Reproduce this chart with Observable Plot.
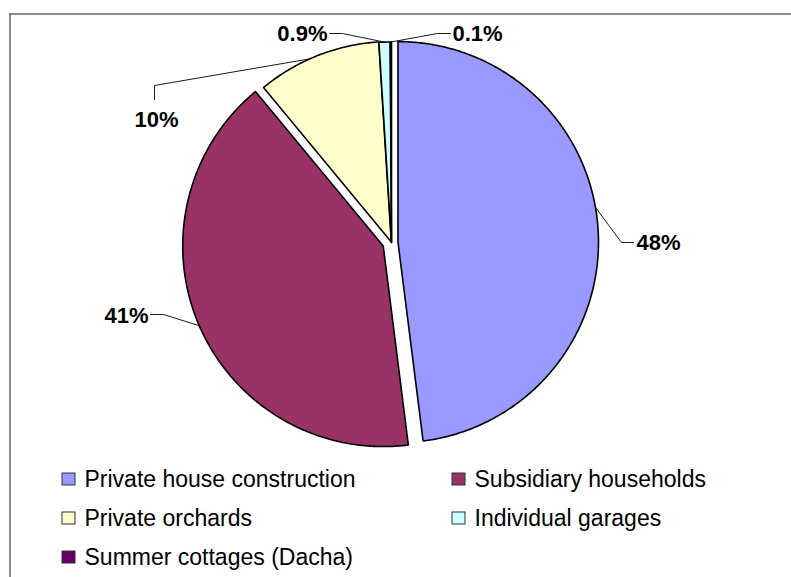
<!DOCTYPE html>
<html>
<head>
<meta charset="utf-8">
<script src="https://cdn.jsdelivr.net/npm/d3@7"></script>
<script src="https://cdn.jsdelivr.net/npm/@observablehq/plot@0.6"></script>
<style>
  html, body { margin: 0; padding: 0; background: #fff; }
  #chart svg { display: block; }
</style>
</head>
<body>
<div id="chart"></div>
<script>
// ---- data ----
const categories = [
  "Private house construction",
  "Subsidiary households",
  "Private orchards",
  "Individual garages",
  "Summer cottages (Dacha)"
];
const shares = [48, 41, 10, 0.9, 0.1];
const labels = ["48%", "41%", "10%", "0.9%", "0.1%"];
const colors = ["#9999FF", "#993366", "#FFFFCC", "#CCFFFF", "#660066"];

// ---- layout (pixels) ----
const W = 791, H = 577;
const CX = 391, CY = 242, R = 200.5;
const explode = [6.5, 9, 0.5, 0, 0];
const labelLayout = [
  {angle: 80,   elbow: [621, 242], end: [633, 242], pos: [636, 242], anchor: "start"},
  {angle: null, elbow: [163, 314], end: [150, 314], pos: [148, 315], anchor: "end"},
  {angle: 336,  elbow: [154, 85],  end: [154, 99],  pos: [156, 119], anchor: "middle"},
  {angle: null, elbow: [342, 33],  end: [329, 33],  pos: [327, 33],  anchor: "end"},
  {angle: null, elbow: [437, 33],  end: [450, 33],  pos: [452, 33],  anchor: "start"}
];
const legendCols = [62, 452];
const legendRows = [479, 518, 557];
const legendSize = 12;

// ---- geometry derived from the data ----
const rad = d => d * Math.PI / 180;
const total = d3.sum(shares);
let acc = 0;
const slices = shares.map((v, i) => {
  const a0 = acc / total * 360;
  acc += v;
  const a1 = acc / total * 360;
  const mid = (a0 + a1) / 2;
  const cx = CX + explode[i] * Math.sin(rad(mid));
  const cy = CY - explode[i] * Math.cos(rad(mid));
  return {cat: categories[i], a0, a1, mid, cx, cy};
});
const pt = (s, a, r) => [s.cx + r * Math.sin(rad(a)), s.cy - r * Math.cos(rad(a))];

const slicePoints = [];
for (const s of slices) {
  slicePoints.push({cat: s.cat, x: s.cx, y: s.cy});
  const n = Math.max(2, Math.ceil((s.a1 - s.a0) / 0.5));
  for (let k = 0; k <= n; k++) {
    const [x, y] = pt(s, s.a0 + (s.a1 - s.a0) * k / n, R);
    slicePoints.push({cat: s.cat, x, y});
  }
  slicePoints.push({cat: s.cat, x: s.cx, y: s.cy});
}

const leaderPoints = [];
const labelData = [];
slices.forEach((s, i) => {
  const L = labelLayout[i];
  const [ax, ay] = pt(s, L.angle == null ? s.mid : L.angle, R);
  leaderPoints.push({k: i, x: ax, y: ay}, {k: i, x: L.elbow[0], y: L.elbow[1]}, {k: i, x: L.end[0], y: L.end[1]});
  labelData.push({text: labels[i], x: L.pos[0], y: L.pos[1], anchor: L.anchor});
});

const legendData = categories.map((c, i) => {
  const col = legendCols[i % 2], row = legendRows[Math.floor(i / 2)];
  return {cat: c, x1: col, x2: col + legendSize + 1, y1: row - legendSize / 2, y2: row + legendSize / 2, tx: col + 22, ty: row};
});

const textMark = anchor => Plot.text(labelData.filter(d => d.anchor === anchor), {
  x: "x", y: "y", text: "text", textAnchor: anchor, lineAnchor: "middle",
  fontSize: 22, fontWeight: "bold", fill: "#000"
});

const chart = Plot.plot({
  width: W, height: H, margin: 0,
  style: {fontFamily: "'Liberation Sans', Arial, sans-serif", background: "#fff"},
  x: {domain: [0, W], range: [0, W], axis: null},
  y: {domain: [0, H], range: [0, H], axis: null},
  color: {domain: categories, range: colors},
  marks: [
    Plot.ruleY([13.5], {x1: 9.5, x2: W, stroke: "#1a1a1a", strokeWidth: 1}),
    Plot.ruleX([9.5], {y1: 13.5, y2: H, stroke: "#1a1a1a", strokeWidth: 1}),
    Plot.line(slicePoints, {x: "x", y: "y", z: "cat", fill: "cat", stroke: "#000",
      strokeWidth: 1.6, strokeLinejoin: "round", curve: "linear"}),
    Plot.line(leaderPoints, {x: "x", y: "y", z: "k", stroke: "#000", strokeWidth: 0.9, curve: "linear"}),
    textMark("start"), textMark("end"), textMark("middle"),
    Plot.rect(legendData, {x1: "x1", x2: "x2", y1: "y1", y2: "y2", fill: "cat", stroke: "#333", strokeWidth: 1}),
    Plot.text(legendData, {x: "tx", y: "ty", text: "cat", textAnchor: "start", lineAnchor: "middle",
      fontSize: 23, fill: "#000"})
  ]
});
document.getElementById("chart").appendChild(chart);
</script>
</body>
</html>
